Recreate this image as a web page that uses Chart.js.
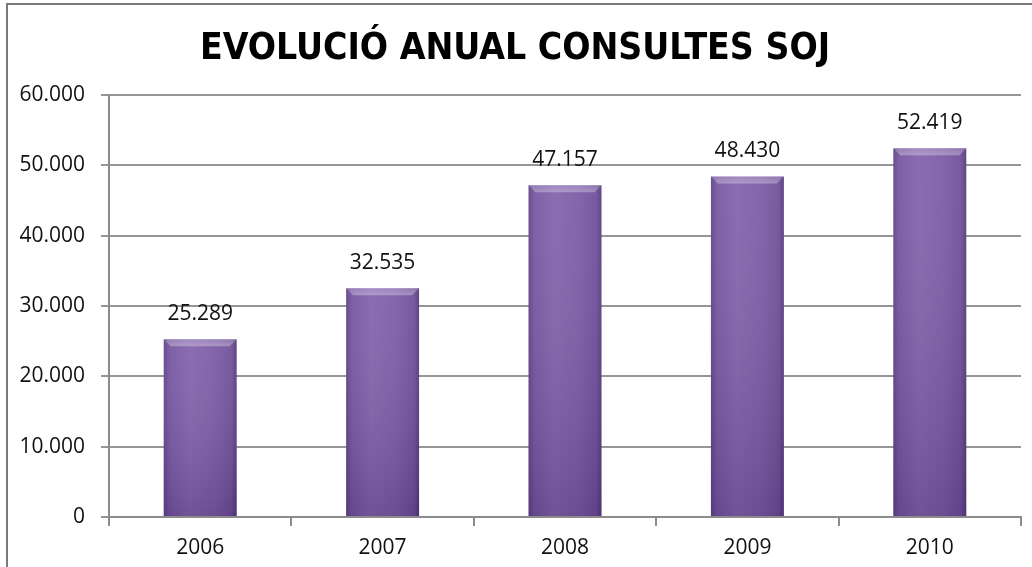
<!DOCTYPE html>
<html>
<head>
<meta charset="utf-8">
<script src="https://cdn.jsdelivr.net/npm/chart.js@4/dist/chart.umd.min.js"></script>
<style>
  html, body { margin: 0; padding: 0; background: #fff; }
  #wrap { width: 1032px; height: 567px; position: relative; }
</style>
</head>
<body>
<div id="wrap"><canvas id="chartCanv" width="1032" height="567"></canvas></div>
<script>
/* chart data */
const titleText = 'EVOLUCIÓ ANUAL CONSULTES SOJ'
const years = ['2006', '2007', '2008', '2009', '2010']
const consultes = [25289, 32535, 47157, 48430, 52419]
const yTicks = [0, 10000, 20000, 30000, 40000, 50000, 60000]

// catalan style thousands: 25.289
function fmt(v) {
  return Math.round(v).toString().replace(/\B(?=(\d{3})+(?!\d))/g, '.')
}

const BAR_PCT = 0.4

function barFill(c) {
  const chart = c.chart
  if (!chart.chartArea) return '#7b5ca3'
  const xs = chart.scales.x
  const cx = xs.getPixelForValue(c.dataIndex)
  const w = xs.width / years.length * BAR_PCT
  const g = chart.ctx.createLinearGradient(cx - w / 2, 0, cx + w / 2, 0)
  g.addColorStop(0, '#5f4387')
  g.addColorStop(0.08, '#7556a0')
  g.addColorStop(0.35, '#8364ac')
  g.addColorStop(0.7, '#7b5ca5')
  g.addColorStop(0.93, '#6e4f98')
  g.addColorStop(1, '#553a7c')
  return g
}

/* frame + title */
const framePlugin = {
  id: 'frame',
  beforeDraw(chart) {
    const ctx = chart.ctx
    ctx.save()
    ctx.fillStyle = '#fff'
    ctx.fillRect(0, 0, chart.width, chart.height)
    ctx.strokeStyle = '#7a7a7a'
    ctx.lineWidth = 2
    ctx.strokeRect(7, 4, chart.width + 20, chart.height + 20)
    ctx.fillStyle = '#000'
    ctx.font = "bold 37px 'Liberation Sans Narrow', 'DejaVu Sans Condensed', 'Open Sans', sans-serif"
    ctx.textAlign = 'center'
    ctx.textBaseline = 'alphabetic'
    ctx.fillText(titleText, 515, 59)
    ctx.restore()
  }
}

/* bevel / shading + value labels above bars */
const barLabels = {
  id: 'barLabels',
  afterDatasetsDraw(chart) {
    const ctx = chart.ctx
    const meta = chart.getDatasetMeta(0)
    ctx.save()
    meta.data.forEach((bar, i) => {
      const l = bar.x - bar.width / 2
      const r = bar.x + bar.width / 2
      const t = bar.y
      const b = bar.base
      // darker toward the bottom
      const vg = ctx.createLinearGradient(0, t, 0, b)
      vg.addColorStop(0, 'rgba(255,255,255,0.06)')
      vg.addColorStop(1, 'rgba(30,5,60,0.18)')
      ctx.fillStyle = vg
      ctx.fillRect(l, t, r - l, b - t)
      // top bevel
      const bv = 7
      ctx.beginPath()
      ctx.moveTo(l, t)
      ctx.lineTo(r, t)
      ctx.lineTo(r - bv, t + bv)
      ctx.lineTo(l + bv, t + bv)
      ctx.closePath()
      const tg = ctx.createLinearGradient(0, t, 0, t + bv)
      tg.addColorStop(0, 'rgba(255,255,255,0.18)')
      tg.addColorStop(1, 'rgba(255,255,255,0.32)')
      ctx.fillStyle = tg
      ctx.fill()
      // value
      ctx.fillStyle = '#111'
      ctx.font = "21px 'Open Sans', sans-serif"
      ctx.textAlign = 'center'
      ctx.textBaseline = 'middle'
      ctx.fillText(fmt(consultes[i]), bar.x, t - 25)
    })
    ctx.restore()
  }
}

const ctxEl = document.getElementById('chartCanv')
const sojChart = new Chart(ctxEl, {
  type: 'bar',
  data: {
    labels: years,
    datasets: [{
      label: 'Consultes',
      data: consultes,
      backgroundColor: barFill,
      borderWidth: 0,
      barPercentage: BAR_PCT,
      categoryPercentage: 1
    }]
  },
  options: {
    responsive: false,
    animation: false,
    layout: { padding: { top: 95, right: 11, bottom: 0, left: 0 } },
    plugins: {
      legend: { display: false },
      title: { display: false },
      tooltip: { enabled: false }
    },
    scales: {
      x: {
        grid: {
          offset: true,
          drawOnChartArea: false,
          drawTicks: true,
          tickLength: 9,
          color: '#8c8c8c',
          lineWidth: 2
        },
        border: { color: '#8c8c8c', width: 2 },
        ticks: {
          color: '#111',
          padding: 9,
          font: { family: "'Open Sans', sans-serif", size: 21 }
        },
        afterFit(scale) { scale.height = 50 }
      },
      y: {
        min: 0,
        max: 60000,
        afterBuildTicks(scale) { scale.ticks = yTicks.map(v => ({ value: v })) },
        grid: {
          color: '#969696',
          lineWidth: 2,
          tickLength: 8
        },
        border: { color: '#8c8c8c', width: 2 },
        ticks: {
          color: '#111',
          padding: 16,
          font: { family: "'Open Sans', sans-serif", size: 21 },
          callback: v => fmt(v)
        },
        afterFit(scale) { scale.width = 109 }
      }
    }
  },
  plugins: [framePlugin, barLabels]
})
</script>
</body>
</html>
